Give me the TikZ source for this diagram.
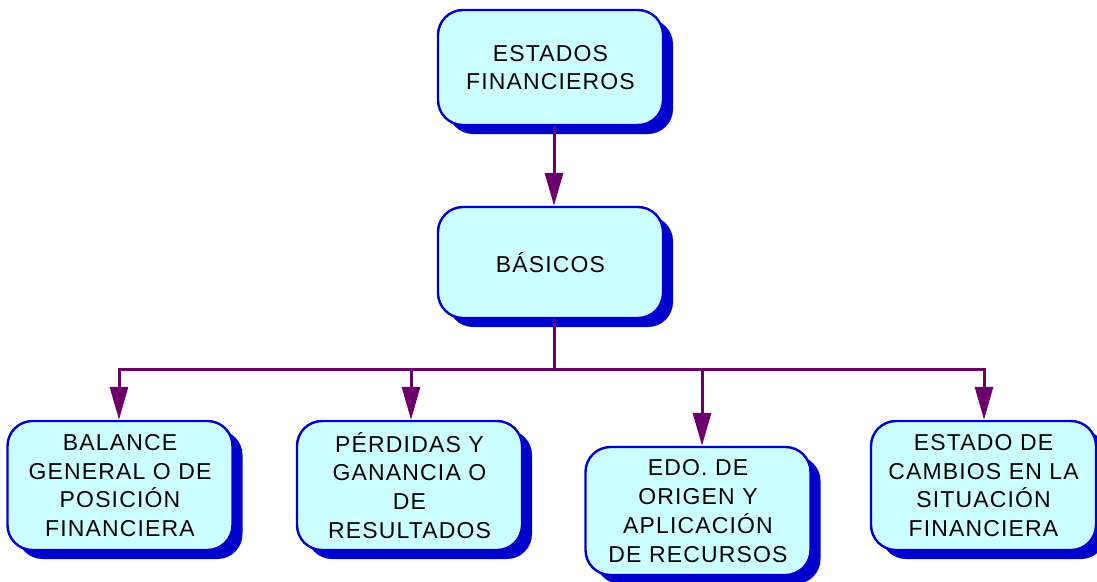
\documentclass[tikz,border=0pt]{standalone}
\usepackage{fontspec}
\setmainfont{Liberation Sans}[LetterSpace=5]
\usetikzlibrary{arrows.meta,shadows}
\definecolor{boxfill}{HTML}{CCFFFF}
\definecolor{boxblue}{HTML}{0000CC}
\definecolor{linkpurple}{HTML}{6B006B}
\begin{document}
\begin{tikzpicture}[x=1pt,y=-1pt,
  card/.style={draw=boxblue, line width=2.4pt, fill=boxfill, rounded corners=25pt,
    minimum width=225pt, inner sep=0pt, align=center, text=black,
    font=\fontsize{23pt}{28.8pt}\selectfont,
    drop shadow={shadow xshift=10pt, shadow yshift=-9pt, fill=boxblue, opacity=1}},
  wire/.style={draw=linkpurple, line width=3pt},
  tip/.style={wire, -{Triangle[length=33pt,width=18pt,fill=linkpurple]}}]
\useasboundingbox (0,0) rectangle (1097,581);
\node[card, minimum height=115pt] (top) at (550.5,67.5) {ESTADOS\\FINANCIEROS};
\node[card, minimum height=111pt] (bas) at (550.5,262.5) {BÁSICOS};
\node[card, minimum height=129pt] (b1) at (120,485.5) {BALANCE\\GENERAL O DE\\POSICIÓN\\FINANCIERA};
\node[card, minimum height=129pt] (b2) at (409.5,485.5) {PÉRDIDAS Y\\GANANCIA O\\DE\\RESULTADOS};
\node[card, minimum height=128pt] (b3) at (698,511) {EDO. DE\\ORIGEN Y\\APLICACIÓN\\DE RECURSOS};
\node[card, minimum height=129pt] (b4) at (983.5,485.5) {ESTADO DE\\CAMBIOS EN LA\\SITUACIÓN\\FINANCIERA};
\coordinate (j) at (554,369);
\draw[tip] ([xshift=3.5pt]top.south) -- ([xshift=3.5pt]bas.north);
\draw[wire] ([xshift=3.5pt]bas.south) -- (j);
\draw[tip] (j) -| ([xshift=-1pt]b1.north);
\draw[tip] (j) -| ([xshift=1.5pt]b2.north);
\draw[tip] (j) -| ([xshift=4pt]b3.north);
\draw[tip] (j) -| ([xshift=0.5pt]b4.north);
\end{tikzpicture}
\end{document}
